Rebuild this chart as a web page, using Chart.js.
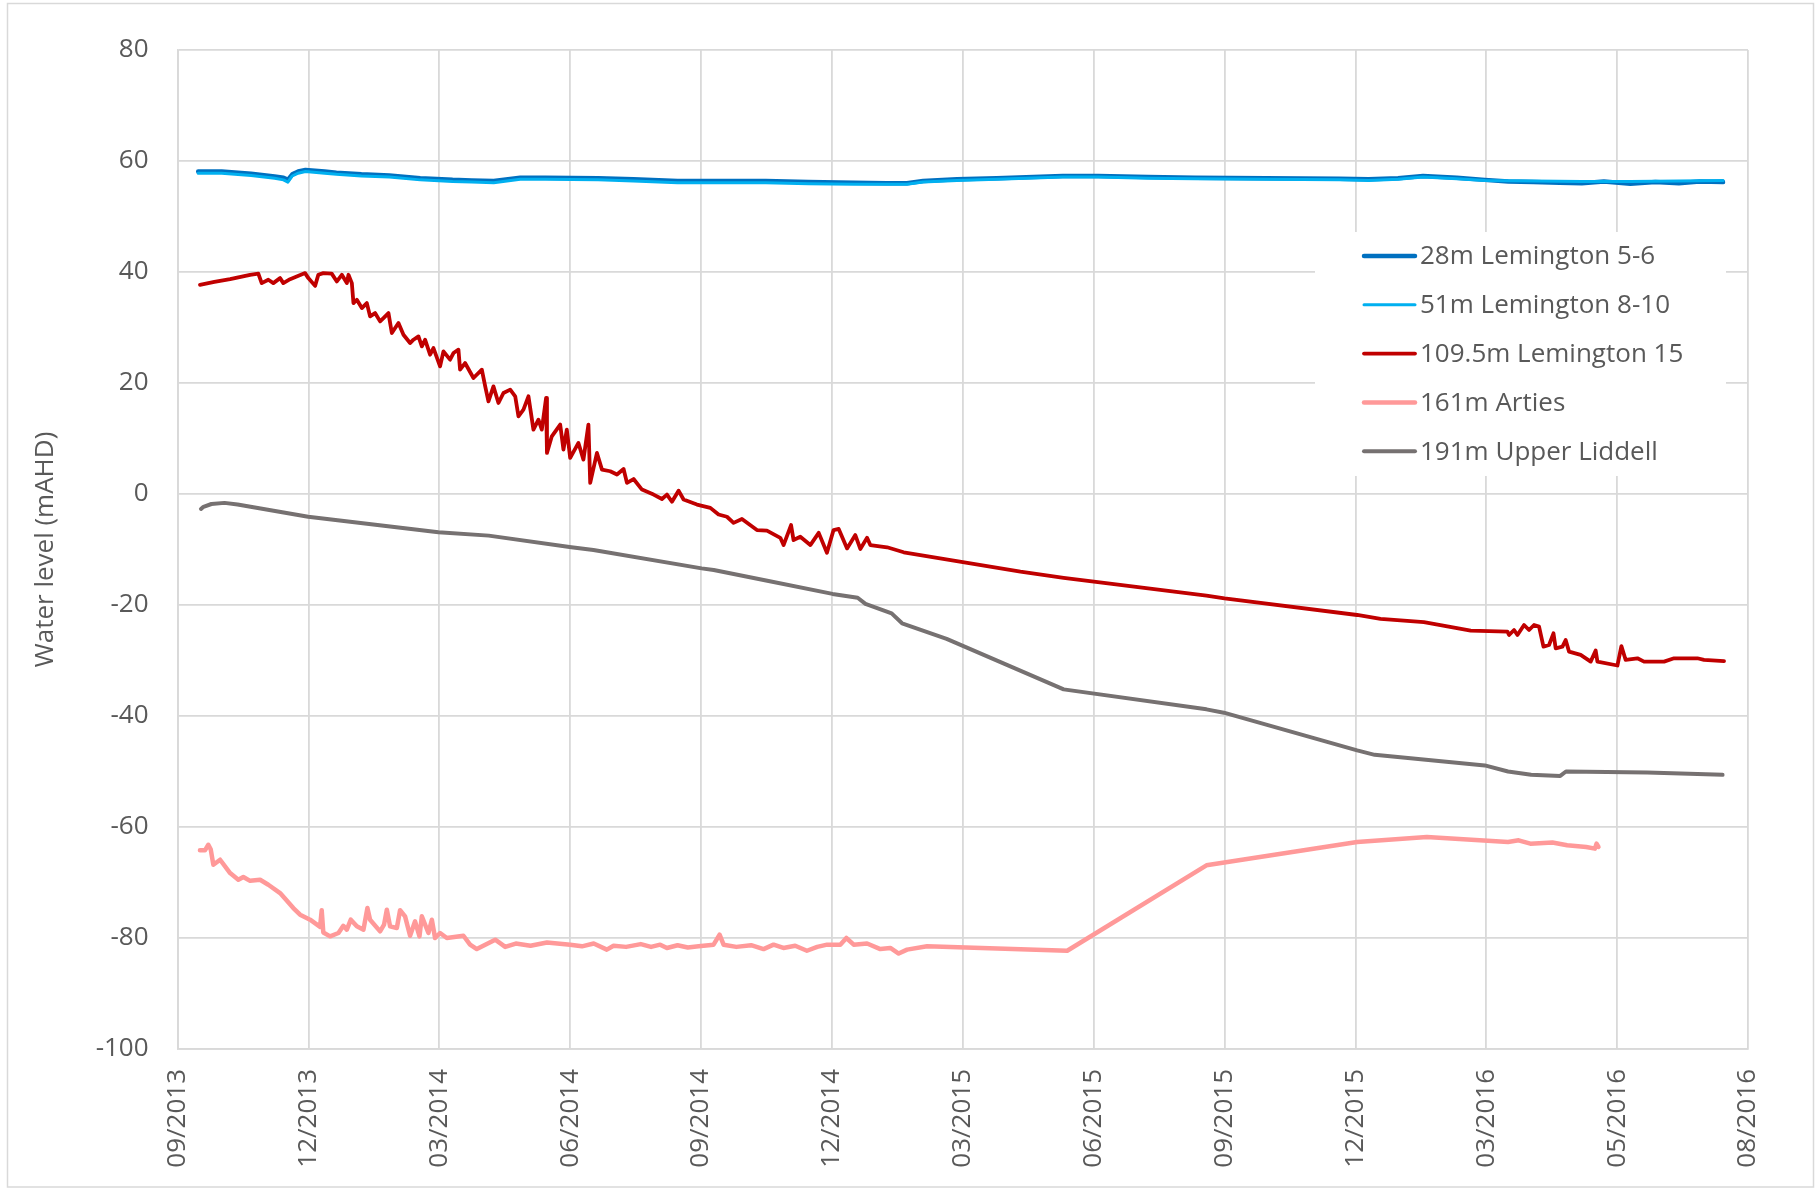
<!DOCTYPE html>
<html>
<head>
<meta charset="utf-8">
<script src="https://cdn.jsdelivr.net/npm/chart.js@4/dist/chart.umd.min.js"></script>
<style>
  html, body { margin: 0; padding: 0; background: #ffffff; }
  #wrap { width: 1820px; height: 1189px; }
</style>
</head>
<body>
<div id="wrap"><canvas id="c" width="1820" height="1189"></canvas></div>
<script>
// ---- Tick labels (x axis: one every 89 days from 2013-09-23) ----
const tickLabels = ['09/2013','12/2013','03/2014','06/2014','09/2014','12/2014','03/2015','06/2015','09/2015','12/2015','03/2016','05/2016','08/2016'];
const tickStepDays = 89;
const yTicks = { min: -100, max: 80, step: 20 };

// ---- Series: x = days since 2013-09-23, y = water level (mAHD) ----
const lem56Days  = [14, 30, 50, 66, 72, 75, 78, 82, 87, 100, 108, 125, 144, 165, 187, 200, 215, 233, 250, 286, 310, 340, 375, 400, 429, 460, 482, 496, 507, 530, 557, 602, 626, 660, 692, 740, 790, 810, 830, 847, 870, 889, 905, 922, 940, 955, 970, 988, 1005, 1021, 1035, 1051];
const lem56Level = [58.1, 58.1, 57.7, 57.2, 57.0, 56.6, 57.6, 58.1, 58.4, 58.1, 57.9, 57.6, 57.4, 56.9, 56.6, 56.5, 56.4, 57.0, 57.0, 56.9, 56.7, 56.4, 56.4, 56.4, 56.2, 56.1, 56.0, 56.0, 56.4, 56.7, 56.9, 57.3, 57.3, 57.1, 57.0, 56.9, 56.8, 56.7, 56.9, 57.3, 57.0, 56.6, 56.3, 56.2, 56.1, 56.0, 56.3, 55.9, 56.2, 56.0, 56.3, 56.2];

const lem810Days  = [14, 30, 50, 66, 72, 75, 78, 82, 87, 100, 108, 125, 144, 165, 187, 200, 215, 233, 250, 286, 310, 340, 375, 400, 429, 460, 482, 496, 507, 530, 557, 602, 626, 660, 692, 740, 790, 810, 830, 847, 870, 889, 922, 955, 988, 1021, 1051];
const lem810Level = [57.8, 57.8, 57.4, 56.9, 56.6, 56.2, 57.3, 57.8, 58.1, 57.8, 57.6, 57.3, 57.1, 56.6, 56.3, 56.2, 56.1, 56.7, 56.7, 56.6, 56.4, 56.1, 56.1, 56.1, 55.9, 55.8, 55.8, 55.8, 56.2, 56.5, 56.7, 57.1, 57.1, 56.9, 56.8, 56.7, 56.6, 56.5, 56.7, 57.1, 56.8, 56.5, 56.4, 56.3, 56.3, 56.4, 56.5];

const lem15Days  = [15.2, 25, 35.7, 49.3, 54.9, 57.2, 61.7, 65.1, 69.7, 71.9, 76.5, 86.7, 88.9, 93.5, 95.7, 99.1, 104.8, 108.3, 111.7, 115.1, 116.2, 118.5, 119.6, 121.9, 125.3, 128.7, 130.9, 134.3, 137.7, 140, 143.4, 145.7, 150.2, 153.6, 158.1, 160.4, 163.8, 166.1, 168.3, 171.7, 174, 178.5, 180.8, 185.3, 187.6, 191, 192.1, 195.5, 201.2, 206.9, 209.2, 211.4, 214.8, 218.2, 221.6, 226.2, 229.6, 231.8, 235.2, 238.6, 242, 245.4, 247.7, 250.6, 251.2, 254.5, 260.2, 262.4, 264.7, 267, 272.6, 276, 279.4, 280.6, 285.2, 288.6, 294.2, 298.8, 303.3, 305.6, 310.1, 315.8, 323.7, 329.4, 332.8, 336.2, 340.7, 344.1, 353.2, 362.3, 367.9, 373.6, 378.1, 383.8, 394, 400.8, 409.9, 412.1, 417.2, 418.9, 423.5, 430.3, 436, 441.6, 446.1, 449.6, 455.3, 460.9, 464.3, 468.9, 471.1, 482.5, 493.8, 573.2, 602.6, 699.7, 712, 802.2, 818.1, 847.6, 879.4, 904.4, 905.5, 908.9, 911.2, 915.7, 919.1, 922.5, 925.9, 928.9, 932.7, 935.7, 937.2, 941.8, 944, 946.3, 954.2, 961, 964.4, 965.6, 979.2, 981.9, 984.8, 992.8, 997.3, 1010.9, 1017.7, 1033.6, 1038.1, 1051.7];
const lem15Level = [37.7, 38.2, 38.7, 39.5, 39.7, 38.0, 38.6, 38.0, 38.9, 38.0, 38.7, 39.8, 38.9, 37.5, 39.5, 39.8, 39.7, 38.3, 39.5, 38.0, 39.5, 38.0, 34.4, 35.0, 33.5, 34.4, 32.0, 32.6, 31.1, 31.7, 32.6, 29.0, 30.8, 28.7, 27.2, 27.8, 28.4, 26.6, 27.8, 25.1, 26.3, 23.0, 25.7, 24.2, 25.4, 26.0, 22.4, 23.6, 20.9, 22.4, 19.4, 16.7, 19.4, 16.4, 18.2, 18.8, 17.6, 14.0, 15.2, 17.6, 11.6, 13.4, 11.6, 17.3, 7.4, 10.4, 12.5, 8.0, 11.6, 6.5, 9.2, 6.2, 12.5, 2.0, 7.4, 4.4, 4.1, 3.5, 4.5, 2.0, 2.7, 0.8, -0.1, -0.9, -0.1, -1.4, 0.6, -1.0, -1.9, -2.5, -3.7, -4.1, -5.2, -4.5, -6.5, -6.6, -7.9, -9.2, -5.6, -8.3, -7.7, -9.2, -7.0, -10.6, -6.5, -6.3, -9.8, -7.4, -9.9, -7.9, -9.2, -9.6, -10.5, -14.0, -15.1, -18.3, -18.8, -21.8, -22.5, -23.1, -24.6, -24.8, -25.4, -24.5, -25.4, -23.6, -24.5, -23.6, -23.9, -27.5, -27.2, -25.1, -27.8, -27.5, -26.3, -28.4, -29.0, -30.2, -28.2, -30.2, -30.9, -27.4, -29.9, -29.6, -30.2, -30.2, -29.6, -29.6, -29.9, -30.1];

const artiesDays  = [15.2, 18.6, 20.9, 22.5, 24.3, 28.9, 35.7, 41.3, 44.7, 49.3, 56.1, 61.7, 69.7, 78.7, 83.3, 90.1, 96.9, 98, 99.1, 103.7, 109.4, 112.7, 115.1, 117.8, 121.9, 126.4, 129.1, 130.9, 137.7, 140.4, 142.3, 144.5, 149.1, 151.3, 154.7, 158.1, 161.5, 164.5, 166.1, 170.6, 172.9, 175.1, 178.5, 183.1, 194.4, 198.9, 203.5, 216, 222.8, 230, 240, 251.2, 267, 275, 283, 291.9, 296.5, 305, 315, 322, 328.2, 332.8, 340, 347, 354.3, 364.5, 368.6, 371.3, 380, 390, 398.5, 405.3, 412, 420, 428, 435, 441.7, 450.7, 454.8, 459.8, 468.9, 477.9, 484.7, 490.4, 496.1, 509.7, 605, 699.7, 802.2, 849.6, 904.8, 912, 920, 935, 945, 958, 963.9, 965, 966.3];
const artiesLevel = [-64.2, -64.2, -63.2, -64.0, -66.8, -65.9, -68.3, -69.5, -69.0, -69.7, -69.5, -70.4, -71.9, -74.6, -75.8, -76.7, -78.0, -75.0, -79.0, -79.7, -79.1, -77.8, -78.5, -76.7, -77.9, -78.5, -74.6, -76.7, -78.8, -77.6, -74.9, -77.9, -78.2, -75.0, -76.1, -79.6, -77.0, -79.7, -76.1, -79.1, -76.7, -80.0, -79.1, -80.0, -79.6, -81.2, -82.0, -80.3, -81.6, -81.0, -81.4, -80.8, -81.2, -81.5, -81.0, -82.1, -81.4, -81.6, -81.1, -81.6, -81.2, -81.8, -81.3, -81.7, -81.5, -81.2, -79.4, -81.2, -81.6, -81.3, -82.0, -81.2, -81.8, -81.4, -82.3, -81.6, -81.2, -81.2, -80.0, -81.2, -81.0, -82.0, -81.8, -82.8, -82.1, -81.5, -82.3, -66.9, -62.7, -61.8, -62.7, -62.4, -63.0, -62.8, -63.3, -63.6, -63.9, -63.0, -63.6];

const liddellDays  = [15.9, 17.6, 23, 31.9, 40.8, 88.8, 177.4, 211.6, 267.8, 282.8, 356.4, 364.6, 400.2, 445.4, 462.5, 467.8, 485.6, 492.7, 523, 602.6, 699.7, 711.5, 802.2, 814.1, 889, 904.8, 920.5, 940.3, 944.2, 999.4, 1050.7];
const liddellLevel = [-2.7, -2.3, -1.8, -1.6, -1.9, -4.1, -6.9, -7.5, -9.6, -10.1, -13.4, -13.7, -15.6, -18.0, -18.7, -19.8, -21.5, -23.3, -26.1, -35.2, -38.8, -39.4, -46.2, -47.0, -48.9, -50.0, -50.6, -50.8, -50.0, -50.2, -50.6];

const seriesNames = ['28m Lemington 5-6', '51m Lemington 8-10', '109.5m Lemington 15', '161m Arties', '191m Upper Liddell'];

// ---- build datasets ----
function pts(xs, ys) { return xs.map((x, i) => ({ x: x, y: ys[i] })); }
const styles = [
  { color: '#0070C0', width: 4.5 },
  { color: '#00B0F0', width: 3 },
  { color: '#C00000', width: 3.8 },
  { color: '#FF9999', width: 4.5 },
  { color: '#767171', width: 4 }
];
const seriesData = [
  pts(lem56Days, lem56Level),
  pts(lem810Days, lem810Level),
  pts(lem15Days, lem15Level),
  pts(artiesDays, artiesLevel),
  pts(liddellDays, liddellLevel)
];
const datasets = seriesData.map((d, i) => ({
  label: seriesNames[i],
  data: d,
  borderColor: styles[i].color,
  backgroundColor: styles[i].color,
  borderWidth: styles[i].width,
  pointRadius: 0,
  tension: 0,
  fill: false,
  borderJoinStyle: 'round',
  borderCapStyle: 'round',
  order: seriesData.length - i
}));

const FONT = "'Open Sans', 'Liberation Sans', sans-serif";
const TEXT = '#595959';
const GRID = '#d9d9d9';

const framePlugin = {
  id: 'frame',
  beforeDraw(chart) {
    const ctx = chart.ctx;
    ctx.save();
    ctx.fillStyle = '#ffffff';
    ctx.fillRect(0, 0, chart.width, chart.height);
    ctx.strokeStyle = GRID;
    ctx.lineWidth = 1.5;
    ctx.strokeRect(7.5, 3.5, 1806, 1183.5);
    ctx.restore();
  },
  afterDraw(chart) {
    const ctx = chart.ctx;
    const a = chart.chartArea;
    const boxL = a.right - 433, boxT = a.top + 182, boxW = 411, boxH = 244;
    ctx.save();
    ctx.fillStyle = '#ffffff';
    ctx.fillRect(boxL, boxT, boxW, boxH);
    ctx.font = '26px ' + FONT;
    ctx.textBaseline = 'middle';
    ctx.textAlign = 'left';
    const ds = chart.data.datasets;
    for (let i = 0; i < ds.length; i++) {
      const y = boxT + 24 + i * 48.8;
      ctx.beginPath();
      ctx.strokeStyle = ds[i].borderColor;
      ctx.lineWidth = ds[i].borderWidth;
      ctx.lineCap = 'round';
      ctx.moveTo(boxL + 49, y);
      ctx.lineTo(boxL + 100, y);
      ctx.stroke();
      ctx.fillStyle = TEXT;
      ctx.fillText(ds[i].label, boxL + 105, y + 1);
    }
    ctx.restore();
  }
};

new Chart(document.getElementById('c'), {
  type: 'line',
  data: { datasets: datasets },
  options: {
    responsive: false,
    devicePixelRatio: 1,
    animation: false,
    events: [],
    layout: { padding: { left: 0, top: 50, right: 72, bottom: 0 } },
    plugins: { legend: { display: false }, tooltip: { enabled: false } },
    scales: {
      x: {
        type: 'linear',
        min: 0,
        max: tickStepDays * (tickLabels.length - 1),
        afterBuildTicks(scale) {
          scale.ticks = tickLabels.map((_, i) => ({ value: i * tickStepDays }));
        },
        afterFit(scale) { scale.height = 140; },
        grid: { color: GRID, lineWidth: 1.8, drawTicks: false },
        border: { display: true, color: GRID, width: 1.8 },
        ticks: {
          autoSkip: false,
          maxRotation: 90,
          minRotation: 90,
          padding: 20,
          color: TEXT,
          font: { family: FONT, size: 26 },
          callback: (v, i) => tickLabels[i]
        }
      },
      y: {
        min: yTicks.min,
        max: yTicks.max,
        afterFit(scale) { scale.width = 177.6; },
        grid: { color: GRID, lineWidth: 1.8, drawTicks: false },
        border: { display: true, color: GRID, width: 1.8 },
        ticks: {
          stepSize: yTicks.step,
          padding: 29,
          color: TEXT,
          font: { family: FONT, size: 26 }
        },
        title: {
          display: true,
          text: 'Water level (mAHD)',
          color: TEXT,
          font: { family: FONT, size: 26 },
          padding: { top: 30, bottom: 0 }
        }
      }
    }
  },
  plugins: [framePlugin]
});
</script>
</body>
</html>
